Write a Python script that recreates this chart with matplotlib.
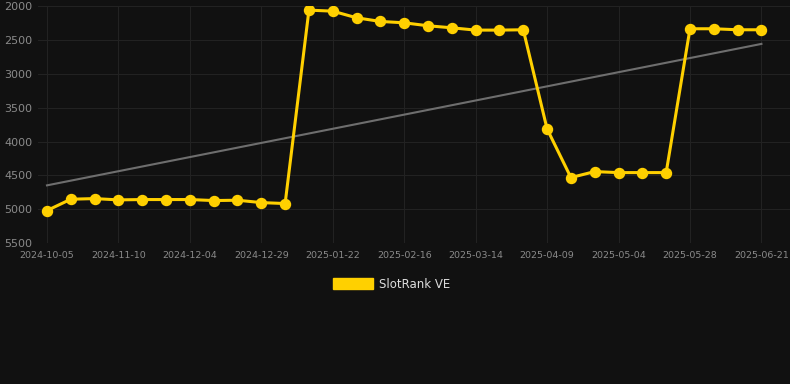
import matplotlib
matplotlib.use("Agg")
import matplotlib.pyplot as plt
import numpy as np

# rank values, one per sample (category axis)
ranks = [5020, 4852, 4843, 4862, 4857, 4857, 4857, 4872, 4867, 4902, 4916,
         2059, 2074, 2172, 2226, 2246, 2290, 2320, 2354, 2354, 2349,
         3814, 4532, 4444, 4459, 4459, 4459, 2334, 2334, 2349, 2349]
tick_labels = ['2024-10-05', '2024-11-10', '2024-12-04', '2024-12-29', '2025-01-22',
               '2025-02-16', '2025-03-14', '2025-04-09', '2025-05-04', '2025-05-28',
               '2025-06-21']
series_name = 'SlotRank VE'

bg = '#111111'
gold = '#ffd000'

fig = plt.figure(figsize=(7.9, 3.84), dpi=100, facecolor=bg)
ax = fig.add_axes([0.048, 0.367, 0.952, 0.617], facecolor=bg)

x = np.arange(len(ranks))
slope, icpt = np.polyfit(x, ranks, 1)
ax.plot(x, slope * x + icpt, color='#6e6e6e', lw=1.5, zorder=2)

ax.plot(x, ranks, color=gold, lw=2.2, marker='o', markersize=7.2, zorder=3,
        label=series_name)

ax.set_ylim(5500, 2000)
ax.set_yticks([2000, 2500, 3000, 3500, 4000, 4500, 5000, 5500])
ax.set_xlim(-0.38, 31.2)
ax.set_xticks(x[::3])
ax.set_xticklabels(tick_labels)

ax.grid(True, color='#222222', lw=0.8)
ax.set_axisbelow(True)
for s in ax.spines.values():
    s.set_visible(False)
ax.tick_params(axis='y', labelsize=8, length=0, pad=4)
ax.tick_params(axis='x', labelsize=6.8, length=0, pad=6)
for lbl in ax.get_yticklabels() + ax.get_xticklabels():
    lbl.set_color('#8a8a8a')

# legend: filled box + label
fig.patches.append(plt.Rectangle((333 / 790, 1 - 289 / 384), 40 / 790, 11 / 384,
                                 transform=fig.transFigure, color=gold))
fig.text(379 / 790, 1 - 284 / 384, series_name, color='#dddddd', fontsize=8.5,
         va='center', ha='left')

fig.savefig('out.png', dpi=100, facecolor=bg)
